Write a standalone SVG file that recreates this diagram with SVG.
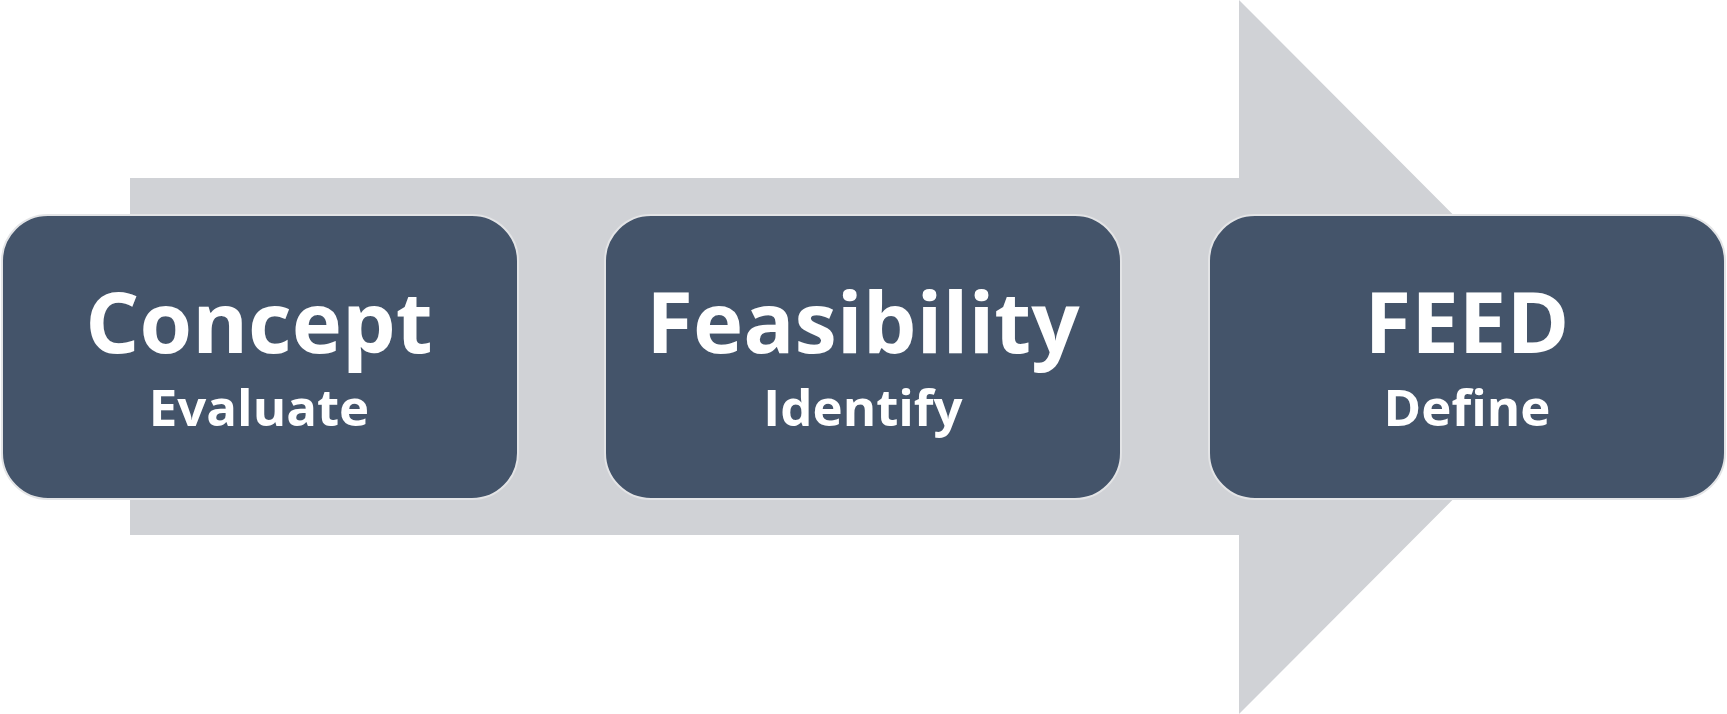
<svg xmlns="http://www.w3.org/2000/svg" width="1727" height="714" viewBox="0 0 1727 714">
<style>
.box{fill:#44546A;stroke:#E3E4E6;stroke-width:2}
.t1{font-family:"Open Sans","Liberation Sans",sans-serif;font-weight:700;font-size:85px;fill:#FFFFFF;text-anchor:middle}
.t2{font-family:"Open Sans","Liberation Sans",sans-serif;font-weight:700;font-size:51px;fill:#FFFFFF;text-anchor:middle}
</style>
<rect width="1727" height="714" fill="#FFFFFF"/>
<g id="arrow">
<polygon points="130,178 1239,178 1239,0 1595,357 1239,714 1239,535 130,535" fill="#D0D2D6"/>
</g>
<g id="connectors"></g>
<g id="concept">
<rect class="box" x="2" y="215" width="516" height="284" rx="46" ry="46"/>
<text class="t1" x="259" y="353">Concept</text>
<text class="t2" x="259" y="426">Evaluate</text>
</g>
<g id="feasibility">
<rect class="box" x="605" y="215" width="516" height="284" rx="46" ry="46"/>
<text class="t1" x="863" y="353">Feasibility</text>
<text class="t2" x="863" y="426">Identify</text>
</g>
<g id="feed">
<rect class="box" x="1209" y="215" width="516" height="284" rx="46" ry="46"/>
<text class="t1" x="1467" y="353">FEED</text>
<text class="t2" x="1467" y="426">Define</text>
</g>
</svg>
